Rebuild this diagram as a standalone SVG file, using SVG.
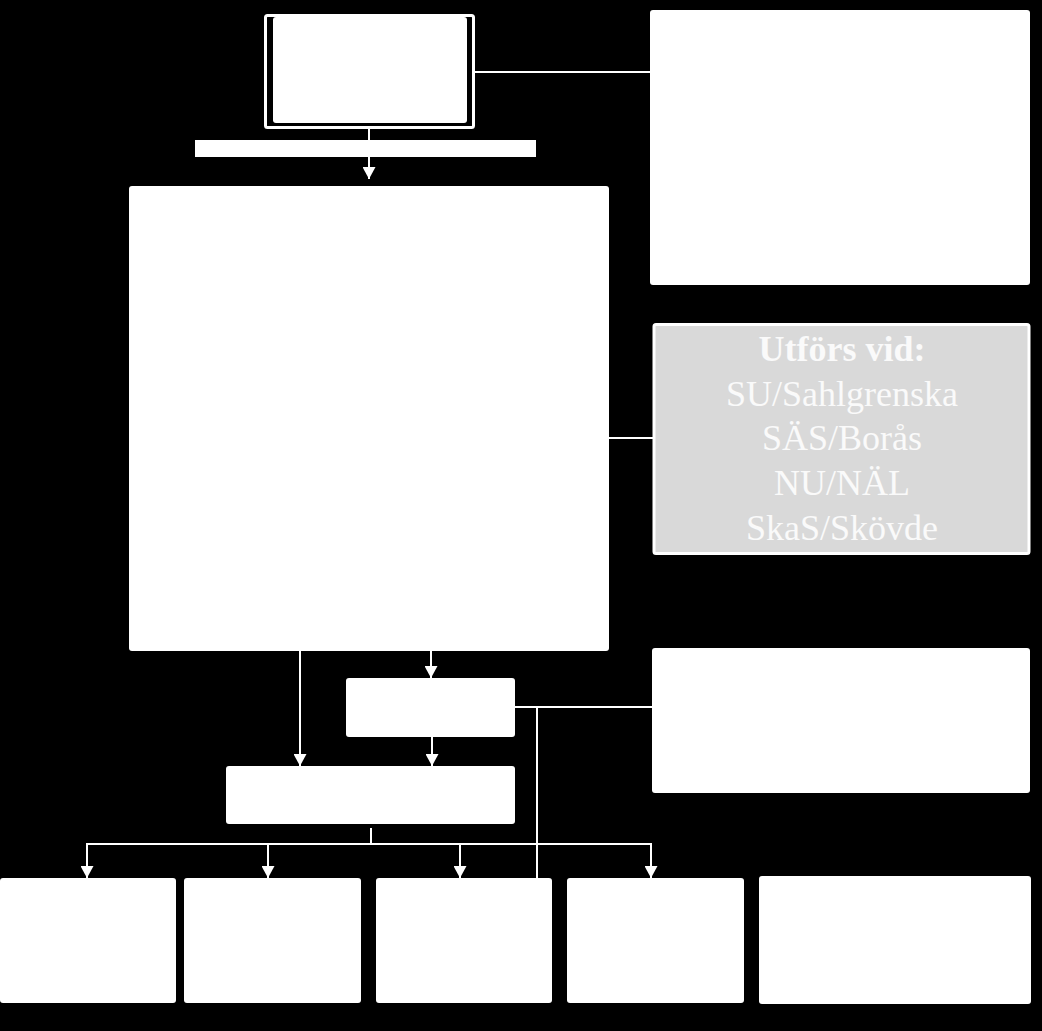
<svg xmlns="http://www.w3.org/2000/svg" width="1042" height="1031" viewBox="0 0 1042 1031">
<style>
.box{fill:#ffffff;}
.ln{stroke:#ffffff;stroke-width:2;fill:none;}
.t{font-family:"Liberation Serif","Times New Roman",serif;font-size:36px;fill:#fafafa;text-anchor:middle;}
.b{font-weight:bold;}
</style>
<defs>
<marker id="ah" markerUnits="userSpaceOnUse" markerWidth="13" markerHeight="13" refX="12" refY="6.5" orient="auto">
<path d="M0,0 L12,6.5 L0,13 z" fill="#ffffff"/>
</marker>
</defs>
<rect x="0" y="0" width="1042" height="1031" fill="#000000"/>
<g id="connectors">
<line class="ln" x1="369" y1="129" x2="369" y2="179" marker-end="url(#ah)"/>
<line class="ln" x1="475" y1="72" x2="650" y2="72"/>
<line class="ln" x1="609" y1="438" x2="653" y2="438"/>
<line class="ln" x1="300" y1="651" x2="300" y2="766" marker-end="url(#ah)"/>
<line class="ln" x1="431" y1="651" x2="431" y2="678" marker-end="url(#ah)"/>
<line class="ln" x1="432" y1="737" x2="432" y2="766" marker-end="url(#ah)"/>
<line class="ln" x1="371" y1="828" x2="371" y2="844"/>
<line class="ln" x1="86" y1="844" x2="652" y2="844"/>
<line class="ln" x1="87" y1="844" x2="87" y2="878" marker-end="url(#ah)"/>
<line class="ln" x1="268" y1="844" x2="268" y2="878" marker-end="url(#ah)"/>
<line class="ln" x1="460" y1="844" x2="460" y2="878" marker-end="url(#ah)"/>
<line class="ln" x1="651" y1="844" x2="651" y2="878" marker-end="url(#ah)"/>
<line class="ln" x1="515" y1="707" x2="652" y2="707"/>
<line class="ln" x1="537" y1="707" x2="537" y2="878"/>
</g>
<g id="top-node">
<rect x="265.5" y="15.5" width="208" height="112" rx="2" fill="#000000" stroke="#ffffff" stroke-width="3"/>
<rect class="box" x="273" y="17" width="194" height="106" rx="3"/>
</g>
<g id="label-band">
<rect class="box" x="195" y="140" width="341" height="17"/>
</g>
<g id="top-right-node">
<rect class="box" x="650" y="10" width="380" height="275" rx="3"/>
</g>
<g id="main-node">
<rect class="box" x="129" y="186" width="480" height="465" rx="3"/>
</g>
<g id="utfors-node">
<rect x="654" y="324.5" width="375" height="229" fill="#d9d9d9" stroke="#ffffff" stroke-width="3" rx="2"/>
<text class="t b" x="842" y="361">Utförs vid:</text>
<text class="t" x="842" y="406">SU/Sahlgrenska</text>
<text class="t" x="842" y="450">SÄS/Borås</text>
<text class="t" x="842" y="495">NU/NÄL</text>
<text class="t" x="842" y="540">SkaS/Skövde</text>
</g>
<g id="small-node">
<rect class="box" x="346" y="678" width="169" height="59" rx="3"/>
</g>
<g id="mid-node">
<rect class="box" x="226" y="766" width="289" height="58" rx="3"/>
</g>
<g id="mid-right-node">
<rect class="box" x="652" y="648" width="378" height="145" rx="3"/>
</g>
<g id="bottom-1">
<rect class="box" x="0" y="878" width="176" height="125" rx="3"/>
</g>
<g id="bottom-2">
<rect class="box" x="184" y="878" width="177" height="125" rx="3"/>
</g>
<g id="bottom-3">
<rect class="box" x="376" y="878" width="176" height="125" rx="3"/>
</g>
<g id="bottom-4">
<rect class="box" x="567" y="878" width="177" height="125" rx="3"/>
</g>
<g id="bottom-5">
<rect class="box" x="759" y="876" width="272" height="128" rx="3"/>
</g>
</svg>
